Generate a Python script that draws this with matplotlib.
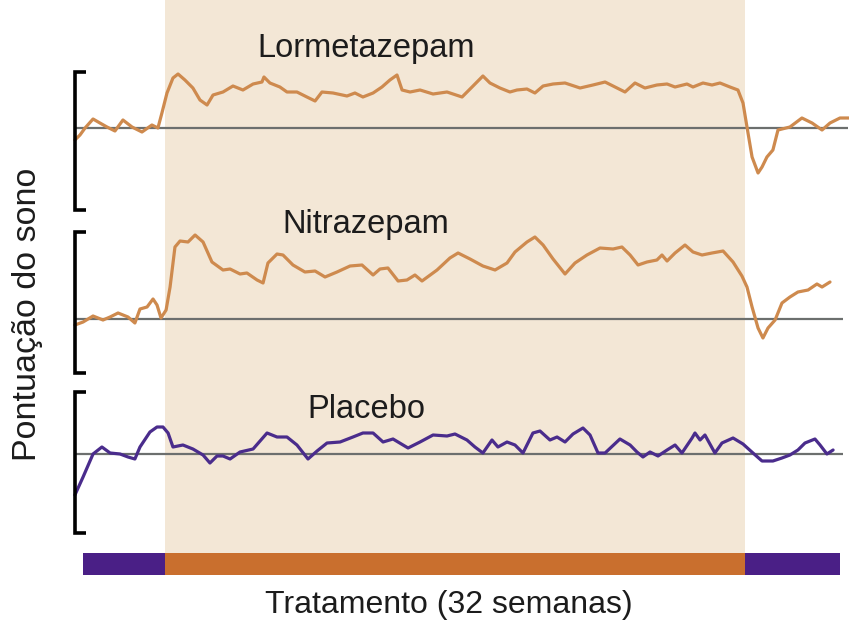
import matplotlib
matplotlib.use("Agg")
import matplotlib.pyplot as plt
from matplotlib.patches import Rectangle

plt.rcParams['font.family'] = ['Liberation Sans', 'DejaVu Sans']

# ---- data: time in weeks (treatment runs from week 0 to week 32), score relative to baseline ----
lorm_weeks = [-4.97, -4.69, -4.41, -3.97, -3.59, -3.20, -2.76, -2.32, -1.82, -1.27, -0.72, -0.39,
              -0.17, 0.11, 0.44, 0.72, 1.10, 1.54, 1.93, 2.32, 2.65, 3.20, 3.75, 4.30, 4.86, 5.35,
              5.46, 5.79, 6.34, 6.73, 7.28, 7.83, 8.28, 8.66, 9.27, 10.04, 10.48, 10.92, 11.48,
              11.97, 12.41, 12.80, 13.08, 13.52, 14.07, 14.79, 15.56, 16.39, 16.94, 17.54, 17.93,
              18.48, 19.03, 19.42, 19.97, 20.41, 20.86, 21.41, 22.07, 22.90, 23.61, 24.28, 24.72,
              25.38, 25.93, 26.48, 27.14, 27.70, 28.14, 28.80, 29.13, 29.68, 30.18, 30.62, 31.17,
              31.61, 31.89, 32.11, 32.39, 32.72, 32.94, 33.21, 33.54, 33.82, 34.48, 35.14, 35.70,
              36.25, 36.69, 37.24, 37.74]
lorm_score = [-12, -7, 0, 9, 5, 1, -3, 8, 1, -4, 3, 0,
              15, 35, 50, 54, 48, 40, 28, 23, 33, 36, 42, 38, 44, 46,
              51, 45, 41, 36, 36, 31, 27, 36, 35, 32, 35, 31, 35,
              41, 48, 53, 38, 36, 38, 34, 36, 31, 41, 52, 45,
              40, 36, 38, 39, 35, 42, 44, 45, 40, 43, 46, 42,
              36, 45, 40, 43, 44, 41, 44, 41, 45, 43, 45, 41,
              38, 25, 1, -29, -45, -39, -29, -22, -2, 1, 10, 5,
              -2, 5, 10, 10]

nitra_weeks = [-4.97, -4.52, -3.97, -3.42, -3.03, -2.59, -2.04, -1.66, -1.38, -0.99, -0.66, -0.44,
               -0.22, 0.06, 0.28, 0.55, 0.83, 1.27, 1.66, 2.10, 2.59, 3.20, 3.59, 4.14, 4.52, 5.08,
               5.41, 5.68, 6.18, 6.51, 7.06, 7.72, 8.28, 8.83, 9.49, 10.21, 10.87, 11.48, 11.86,
               12.30, 12.86, 13.35, 13.79, 14.18, 15.01, 15.72, 16.17, 16.83, 17.54, 18.21, 18.87,
               19.31, 19.97, 20.41, 20.86, 21.41, 22.07, 22.62, 23.28, 24.00, 24.72, 25.21, 25.66,
               26.10, 26.59, 27.14, 27.42, 27.70, 28.14, 28.69, 29.13, 29.63, 30.18, 30.79, 31.34,
               31.83, 32.11, 32.39, 32.72, 32.99, 33.27, 33.66, 34.04, 34.48, 34.92, 35.48, 35.97,
               36.25, 36.69]
nitra_score = [-6, -3, 3, -1, 2, 6, 2, -4, 10, 12, 20, 14,
               1, 9, 32, 72, 78, 77, 84, 77, 57, 49, 50, 45, 46, 39,
               36, 56, 65, 64, 54, 47, 48, 42, 47, 53, 54, 44, 50,
               51, 38, 39, 44, 38, 49, 61, 66, 60, 53, 49, 56,
               67, 77, 82, 74, 60, 45, 56, 64, 71, 70, 72, 64,
               54, 57, 59, 64, 58, 66, 74, 67, 64, 66, 68, 57,
               43, 32, 12, -9, -19, -9, -1, 16, 22, 27, 29, 35,
               32, 37]

plac_weeks = [-4.97, -4.52, -3.97, -3.48, -3.03, -2.48, -2.04, -1.66, -1.38, -0.83, -0.44, -0.11,
              0.17, 0.44, 0.99, 1.54, 2.10, 2.48, 2.87, 3.20, 3.59, 4.14, 4.86, 5.63, 6.18, 6.73,
              7.28, 7.89, 8.39, 8.94, 9.66, 10.37, 10.92, 11.48, 12.03, 12.58, 13.41, 14.07, 14.79,
              15.56, 16.00, 16.66, 17.10, 17.54, 18.04, 18.37, 18.87, 19.31, 19.75, 20.30, 20.69,
              21.24, 21.63, 22.07, 22.51, 23.06, 23.45, 23.89, 24.28, 25.10, 25.66, 26.04, 26.37,
              26.76, 27.20, 27.70, 28.14, 28.52, 29.08, 29.24, 29.52, 29.79, 30.34, 30.73, 31.34,
              31.89, 32.44, 32.94, 33.54, 34.04, 34.48, 34.92, 35.31, 35.86, 36.14, 36.52, 36.86]
plac_score = [-41, -23, 0, 7, 1, 0, -3, -5, 7, 22, 27, 27,
              21, 7, 9, 5, -1, -9, -2, -2, -5, 2, 5, 21, 17, 17,
              9, -5, 3, 11, 12, 17, 21, 21, 12, 15, 6, 12, 19,
              18, 20, 14, 7, 1, 14, 7, 12, 9, 1, 21, 23,
              14, 17, 12, 20, 26, 19, 1, 1, 15, 9, 2, -3,
              2, -2, 4, 9, 1, 16, 21, 14, 19, 1, 11, 16,
              10, 1, -7, -7, -4, -1, 4, 11, 15, 9, 0, 4]

drug_names = ["Lormetazepam", "Nitrazepam", "Placebo"]
phase_edges = [-4.52, 0.0, 32.0, 37.24]   # pre-treatment, treatment, withdrawal
x_label = "Tratamento (32 semanas)"
y_label = "Pontuação do sono"

# ---- styling ----
ORANGE_LINE = "#CE8A4E"
PURPLE_LINE = "#4A2C8C"
ORANGE_BAR = "#C96F2E"
PURPLE_BAR = "#4A1F86"
SHADE = "#F3E7D6"
BASE = "#6C6F6E"
TEXT = "#1C1C1C"

fig = plt.figure(figsize=(8.49, 6.24), dpi=100)
ax = fig.add_axes([0, 0, 1, 1])
ax.set_xlim(-9.103, 37.738)
ax.set_ylim(-624, 0)
ax.axis("off")

# treatment period shading
ax.add_patch(Rectangle((phase_edges[1], -553), phase_edges[2] - phase_edges[1], 553,
                       facecolor=SHADE, edgecolor="none", zorder=0))

# phase bar along the bottom
bar_colors = [PURPLE_BAR, ORANGE_BAR, PURPLE_BAR]
for i, c in enumerate(bar_colors):
    ax.add_patch(Rectangle((phase_edges[i], -575), phase_edges[i + 1] - phase_edges[i], 22,
                           facecolor=c, edgecolor="none", zorder=2))

panels = [
    (lorm_weeks, lorm_score, -128, ORANGE_LINE, 37.68, (-72, -210), -57),
    (nitra_weeks, nitra_score, -319, ORANGE_LINE, 37.41, (-232, -373), -233),
    (plac_weeks, plac_score, -454, PURPLE_LINE, 37.41, (-392, -533), -418),
]

x0 = -4.97
for (name, (wk, sc, off, col, xend, (btop, bbot), ty)) in zip(drug_names, panels):
    ax.plot([x0, xend], [off, off], color=BASE, lw=1.6, zorder=3, solid_capstyle="butt")
    ax.plot(wk, [off + v for v in sc], color=col, lw=2.3, zorder=4,
            solid_joinstyle="round", solid_capstyle="round")
    # scale bracket
    ax.plot([-4.36, x0, x0, -4.36], [btop, btop, bbot, bbot], color="black", lw=2.6,
            solid_joinstyle="miter", solid_capstyle="butt", zorder=4)
    ax.text(11.1, ty, name, ha="center", va="baseline", fontsize=23.5, color=TEXT, zorder=5)

ax.text(15.67, -613, x_label, ha="center", va="baseline", fontsize=23, color=TEXT)
ax.text(-7.56, -314, y_label, ha="center", va="center", rotation=90, fontsize=24.5, color=TEXT)

fig.savefig("out.png", dpi=100, facecolor="white")
